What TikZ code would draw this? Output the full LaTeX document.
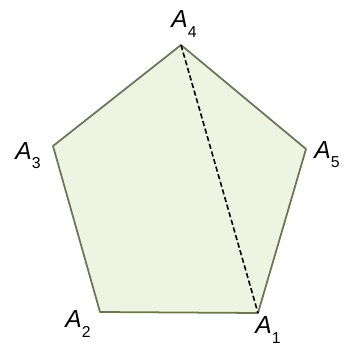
\documentclass[tikz,border=0pt]{standalone}
\usepackage{fontspec}
\setmainfont{Liberation Sans}
\usepackage{tikz}
\usetikzlibrary{positioning, calc}
\definecolor{pentfill}{RGB}{238,244,226}
\definecolor{pentline}{RGB}{108,118,80}
\newcommand{\vlab}[1]{\textit{A}\raisebox{-0.7ex}{\fontsize{9}{10}\selectfont #1}}

\begin{document}
\begin{tikzpicture}[x=0.02cm, y=-0.02cm,
    vname/.style={font=\fontsize{14}{16}\selectfont, inner sep=0pt}]
        \useasboundingbox (0,0) rectangle (352,354);
        % corners
        \coordinate (a1) at (258,313);
        \coordinate (a2) at (100,312);
        \coordinate (a3) at (53,146);
        \coordinate (a4) at (181,45);
        \coordinate (a5) at (306,149);
        % pentagon
        \draw[draw=pentline, fill=pentfill, line width=1pt, line join=round]
          (a1) -- (a2) -- (a3) -- (a4) -- (a5) -- cycle;
        \draw[dashed, line width=0.9pt, dash pattern=on 3pt off 1.5pt] (a4) -- (a1);
        % labels
        \node[vname] (l4) at (184,24) {\vlab{4}};
        \node[vname] (l3) at (28,156) {\vlab{3}};
        \node[vname] (l5) at (327,155) {\vlab{5}};
        \node[vname] (l2) at (78,324) {\vlab{2}};
        \node[vname] (l1) at (268,330) {\vlab{1}};
      \end{tikzpicture}
\end{document}
